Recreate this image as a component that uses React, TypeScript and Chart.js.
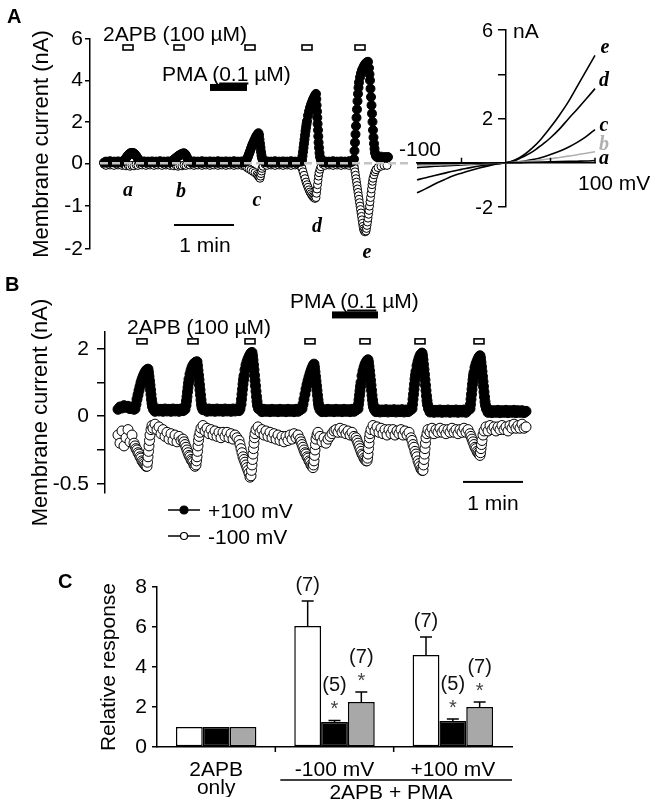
import React, { useEffect, useRef } from 'react';
import { Chart, registerables } from 'chart.js';

Chart.register(...registerables);

const PAGE_W = 654;
const PAGE_H = 808;
const SANS = '"Liberation Sans", Arial, Helvetica, sans-serif';
const SERIF = '"Liberation Serif", "Times New Roman", serif';

// ---------------- Panel A : time course (s, nA) ----------------
const aTickValues = [6, 4, 2, 0, -1, -2];
const aTickLabels = ['6', '4', '2', '0', '-1', '-2'];
const aNegStretch = 2.07; // negative half of the axis is drawn expanded
const aPlus100: [number, number][] = [
  [14, 0.03], [16, 0.08], [18, 0.04], [20, 0.1], [22, 0.05], [24, 0.08], [26, 0.03], [28, 0.09], [30, 0.05], [32, 0.08],
  [34, 0.12], [35, 0.18], [36, 0.25], [37, 0.32], [38, 0.38], [39, 0.43], [40, 0.47], [41, 0.5], [42, 0.5], [43, 0.5],
  [44, 0.47], [45, 0.43], [46, 0.37], [47, 0.3], [48, 0.22], [49, 0.15], [50, 0.1],
  [52, 0.05], [54, 0.09], [56, 0.04], [58, 0.08], [60, 0.03], [62, 0.09], [64, 0.05], [66, 0.08], [68, 0.04], [70, 0.1],
  [72, 0.05], [74, 0.08], [76, 0.03], [78, 0.09], [80, 0.05],
  [82, 0.1], [83, 0.14], [84, 0.18], [85, 0.22], [86, 0.26], [87, 0.3], [88, 0.34], [89, 0.37], [90, 0.4], [91, 0.43],
  [92, 0.45], [93, 0.47], [94, 0.48], [95, 0.45], [96, 0.38], [97, 0.28], [98, 0.2], [99, 0.13], [100, 0.08],
  [102, 0.03], [104, 0.09], [106, 0.05], [108, 0.08], [110, 0.03], [112, 0.1], [114, 0.04], [116, 0.08], [118, 0.03],
  [120, 0.09], [122, 0.05], [124, 0.08], [126, 0.03], [128, 0.1], [130, 0.04], [132, 0.08], [134, 0.03], [136, 0.09],
  [138, 0.05], [140, 0.08], [142, 0.03], [144, 0.1], [146, 0.04], [148, 0.08], [150, 0.03], [152, 0.09], [154, 0.05],
  [156, 0.08], [157, 0.2], [158, 0.32], [159, 0.45], [160, 0.58], [161, 0.72], [162, 0.85], [163, 0.97], [164, 1.08],
  [165, 1.18], [166, 1.28], [167, 1.36], [168, 1.42], [168.5, 1.45], [169, 1.35], [169.5, 1.15], [170, 0.95],
  [170.5, 0.75], [171, 0.55], [171.5, 0.38], [172, 0.25], [173, 0.12],
  [175, 0.05], [177, 0.09], [179, 0.04], [181, 0.08], [183, 0.03], [185, 0.1], [187, 0.05], [189, 0.08], [191, 0.03],
  [193, 0.09], [195, 0.04], [197, 0.08], [199, 0.03], [201, 0.1], [203, 0.05], [205, 0.08], [207, 0.03], [209, 0.09],
  [211, 0.08], [212, 0.15], [212.5, 0.35], [213, 0.55], [213.5, 0.75], [214, 0.95], [214.5, 1.15], [215, 1.35],
  [215.5, 1.55], [216, 1.72], [216.5, 1.88], [217, 2.03], [218, 2.3], [219, 2.5], [220, 2.68], [221, 2.83],
  [222, 2.96], [223, 3.08], [224, 3.18], [225, 3.28], [226, 3.35], [226.3, 3.1], [226.6, 2.8], [227, 2.5],
  [227.3, 2.2], [227.6, 1.9], [228, 1.6], [228.3, 1.3], [228.6, 1.0], [229, 0.75], [229.5, 0.5], [230, 0.3], [231, 0.15],
  [233, 0.05], [235, 0.09], [237, 0.04], [239, 0.08], [241, 0.03], [243, 0.1], [245, 0.05], [247, 0.08], [249, 0.03],
  [251, 0.09], [253, 0.04], [255, 0.08], [257, 0.03], [259, 0.1], [261, 0.05],
  [263, 0.1], [264, 0.2], [264.5, 0.6], [265, 1.0], [265.5, 1.4], [266, 1.8], [266.5, 2.2], [267, 2.6], [267.5, 3.0],
  [268, 3.35], [268.5, 3.65], [269, 3.9], [270, 4.15], [271, 4.35], [272, 4.5], [273, 4.6], [274, 4.7], [275, 4.78],
  [276, 4.84], [277, 4.88], [278, 4.9], [279, 4.6], [279.5, 4.3], [280, 4.0], [280.5, 3.6], [281, 3.2], [281.5, 2.8],
  [282, 2.4], [282.5, 2.0], [283, 1.6], [283.5, 1.25], [284, 0.95], [284.5, 0.7], [285, 0.5], [286, 0.35], [287, 0.3],
  [289, 0.28], [291, 0.32], [293, 0.27], [295, 0.3], [297, 0.26], [298, 0.3],
];
const aMinus100: [number, number][] = [
  [14, -0.02], [16, -0.05], [18, -0.01], [20, -0.04], [22, -0.02], [24, -0.05], [26, -0.01], [28, -0.04], [30, -0.02],
  [32, -0.05], [34, -0.03], [36, -0.06], [38, -0.04], [40, -0.07], [42, -0.05], [44, -0.06], [46, -0.03], [48, -0.05],
  [50, -0.02], [52, -0.04], [54, -0.01], [56, -0.05], [58, -0.02], [60, -0.04], [62, -0.01], [64, -0.05], [66, -0.02],
  [68, -0.04], [70, -0.01], [72, -0.05], [74, -0.02], [76, -0.04], [78, -0.02], [80, -0.05], [82, -0.03], [84, -0.06],
  [86, -0.04], [88, -0.07], [90, -0.05], [92, -0.06], [94, -0.04], [96, -0.05], [98, -0.02], [100, -0.04],
  [102, -0.01], [104, -0.05], [106, -0.02], [108, -0.04], [110, -0.01], [112, -0.05], [114, -0.02], [116, -0.04],
  [118, -0.01], [120, -0.05], [122, -0.02], [124, -0.04], [126, -0.01], [128, -0.05], [130, -0.02], [132, -0.04],
  [134, -0.01], [136, -0.05], [138, -0.02], [140, -0.04], [142, -0.01], [144, -0.05], [146, -0.02], [148, -0.04],
  [150, -0.01], [152, -0.05], [154, -0.03],
  [155, -0.06], [157, -0.1], [159, -0.13], [161, -0.16], [163, -0.19], [165, -0.22], [167, -0.26], [168, -0.29],
  [169, -0.32], [170, -0.35], [170.5, -0.3], [171, -0.24], [171.5, -0.18], [172, -0.12], [173, -0.07],
  [175, -0.02], [177, -0.05], [179, -0.01], [181, -0.04], [183, -0.02], [185, -0.05], [187, -0.01], [189, -0.04],
  [191, -0.02], [193, -0.05], [195, -0.01], [197, -0.04], [199, -0.02], [201, -0.05], [203, -0.01], [205, -0.04],
  [207, -0.02], [209, -0.05],
  [211, -0.06], [212, -0.12], [213, -0.2], [214, -0.28], [215, -0.36], [216, -0.44], [217, -0.5], [218, -0.56],
  [219, -0.62], [220, -0.67], [221, -0.71], [222, -0.75], [223, -0.78], [224, -0.8], [225, -0.82], [226, -0.8],
  [226.5, -0.7], [227, -0.6], [227.5, -0.5], [228, -0.4], [228.5, -0.3], [229, -0.22], [230, -0.14], [231, -0.08],
  [233, -0.02], [235, -0.05], [237, -0.01], [239, -0.04], [241, -0.02], [243, -0.05], [245, -0.01], [247, -0.04],
  [249, -0.02], [251, -0.05], [253, -0.01], [255, -0.04], [257, -0.02], [259, -0.05], [261, -0.01], [263, -0.04],
  [264, -0.06], [264.5, -0.12], [265, -0.2], [265.5, -0.28], [266, -0.36], [266.5, -0.44], [267, -0.52], [267.5, -0.6],
  [268, -0.68], [268.5, -0.76], [269, -0.84], [269.5, -0.92], [270, -1.0], [270.5, -1.08], [271, -1.16],
  [271.5, -1.24], [272, -1.32], [272.5, -1.4], [273, -1.47], [273.5, -1.53], [274, -1.57], [275, -1.6], [276, -1.58],
  [276.5, -1.52], [277, -1.45], [277.5, -1.37], [278, -1.28], [278.5, -1.19], [279, -1.1], [279.5, -1.0], [280, -0.9],
  [280.5, -0.8], [281, -0.7], [281.5, -0.6], [282, -0.5], [282.5, -0.42], [283, -0.35], [284, -0.27], [285, -0.2],
  [286, -0.15], [288, -0.1], [291, -0.07], [294, -0.05], [297, -0.05],
];
const a2apbStarts = [33, 84, 155, 212, 265]; // s
const a2apbDuration = 10; // s
const aPma = [120, 157]; // s
const aScaleBar = [84, 144]; // 1 min
const aZeroLine = [10, 320];

// ---------------- Panel A inset : I-V curves (mV, nA) ----------------
const ivVoltage = [-100, -90, -80, -70, -60, -50, -40, -30, -20, -10, 0, 10, 20, 30, 40, 50, 60, 70, 80, 90, 100];
const ivA = [-0.05, -0.045, -0.04, -0.035, -0.03, -0.025, -0.02, -0.015, -0.01, -0.005, 0, 0, 0.01, 0.02, 0.03, 0.04, 0.05, 0.06, 0.07, 0.08, 0.1];
const ivB = [-0.12, -0.11, -0.1, -0.09, -0.08, -0.065, -0.05, -0.04, -0.03, -0.015, 0, 0.02, 0.05, 0.09, 0.13, 0.18, 0.24, 0.3, 0.36, 0.43, 0.5];
const ivC = [-0.22, -0.19, -0.16, -0.14, -0.12, -0.1, -0.08, -0.06, -0.04, -0.02, 0, 0.03, 0.07, 0.14, 0.24, 0.37, 0.52, 0.7, 0.92, 1.18, 1.5];
const ivD = [-0.77, -0.68, -0.58, -0.48, -0.38, -0.3, -0.22, -0.15, -0.09, -0.04, 0, 0.1, 0.28, 0.5, 0.8, 1.13, 1.52, 1.98, 2.42, 2.88, 3.35];
const ivE = [-1.36, -1.17, -0.96, -0.78, -0.6, -0.47, -0.35, -0.24, -0.14, -0.05, 0, 0.12, 0.35, 0.68, 1.1, 1.6, 2.15, 2.75, 3.45, 4.15, 4.85];
const ivYLabelValues = [6, 2, -2];
const ivXTickValues = [-50, 50, 100];

// ---------------- Panel B : time course (s, nA) ----------------
const bTickValues = [2, 1, 0, -0.25, -0.5];
const bTickLabels = ['2', '', '0', '', '-0.5'];
const bNegStretch = 4.06;
const bPlus100: [number, number][] = [
  [13, 0.2], [15, 0.27], [17, 0.24], [19, 0.31], [21, 0.26], [23, 0.29], [25, 0.22], [27, 0.25], [29, 0.2],
  [30, 0.22], [31, 0.35], [32, 0.5], [33, 0.63], [34, 0.76], [35, 0.88], [36, 1.0], [37, 1.09], [38, 1.17], [39, 1.24],
  [40, 1.3], [41, 1.35], [42, 1.38], [43, 1.4], [43.5, 1.3], [44, 1.18], [44.5, 1.05], [45, 0.92], [45.5, 0.78],
  [46, 0.64], [46.5, 0.5], [47, 0.38], [47.5, 0.28], [48.5, 0.2],
  [50, 0.14], [52, 0.21], [54, 0.15], [56, 0.2], [58, 0.14], [60, 0.21], [62, 0.15], [64, 0.2], [66, 0.14], [68, 0.21],
  [70, 0.15], [72, 0.2], [74, 0.14], [76, 0.21], [78, 0.16],
  [80, 0.2], [81, 0.32], [81.5, 0.45], [82, 0.58], [82.5, 0.72], [83, 0.85], [83.5, 0.98], [84, 1.1], [85, 1.25],
  [86, 1.36], [87, 1.45], [88, 1.51], [89, 1.56], [90, 1.59], [91, 1.61], [92, 1.62], [92.5, 1.5], [93, 1.36],
  [93.5, 1.22], [94, 1.08], [94.5, 0.93], [95, 0.78], [95.5, 0.63], [96, 0.48], [96.5, 0.35], [97, 0.26], [98, 0.19],
  [100, 0.2], [102, 0.14], [104, 0.21], [106, 0.15], [108, 0.2], [110, 0.14], [112, 0.21], [114, 0.15], [116, 0.2],
  [118, 0.14], [120, 0.21], [122, 0.15], [124, 0.2], [126, 0.14], [128, 0.21], [130, 0.15], [132, 0.2], [134, 0.16],
  [135, 0.22], [136, 0.35], [136.5, 0.5], [137, 0.65], [137.5, 0.8], [138, 0.95], [138.5, 1.08], [139, 1.2],
  [140, 1.38], [141, 1.52], [142, 1.62], [143, 1.7], [144, 1.77], [145, 1.83], [146, 1.88], [147, 1.9], [147.5, 1.8],
  [148, 1.67], [148.5, 1.53], [149, 1.38], [149.5, 1.22], [150, 1.06], [150.5, 0.9], [151, 0.74], [151.5, 0.58],
  [152, 0.44], [152.5, 0.32], [153.5, 0.22],
  [155, 0.2], [157, 0.13], [159, 0.2], [161, 0.14], [163, 0.19], [165, 0.13], [167, 0.2], [169, 0.14], [171, 0.19],
  [173, 0.13], [175, 0.2], [177, 0.14], [179, 0.19], [181, 0.13], [183, 0.2], [185, 0.14], [187, 0.19], [189, 0.13],
  [191, 0.2], [193, 0.14], [195, 0.18],
  [197, 0.22], [198, 0.35], [199, 0.5], [200, 0.65], [201, 0.8], [202, 0.93], [203, 1.05], [204, 1.16], [205, 1.26],
  [206, 1.35], [207, 1.43], [208, 1.5], [209, 1.55], [209.5, 1.45], [210, 1.32], [210.5, 1.18], [211, 1.04],
  [211.5, 0.9], [212, 0.76], [212.5, 0.62], [213, 0.48], [213.5, 0.36], [214, 0.27], [215, 0.19],
  [217, 0.13], [219, 0.19], [221, 0.13], [223, 0.2], [225, 0.14], [227, 0.19], [229, 0.13], [231, 0.2], [233, 0.14],
  [235, 0.19], [237, 0.13], [239, 0.2], [241, 0.14], [243, 0.19], [245, 0.13], [247, 0.2], [249, 0.14], [251, 0.18],
  [253, 0.22], [253.5, 0.35], [254, 0.48], [254.5, 0.62], [255, 0.75], [255.5, 0.88], [256, 1.0], [257, 1.2],
  [258, 1.34], [259, 1.45], [260, 1.54], [261, 1.6], [262, 1.65], [263, 1.68], [263.5, 1.6], [264, 1.48], [264.5, 1.35],
  [265, 1.21], [265.5, 1.07], [266, 0.92], [266.5, 0.77], [267, 0.62], [267.5, 0.48], [268, 0.36], [268.5, 0.27],
  [269.5, 0.19],
  [271, 0.13], [273, 0.19], [275, 0.12], [277, 0.18], [279, 0.13], [281, 0.19], [283, 0.12], [285, 0.18], [287, 0.13],
  [289, 0.19], [291, 0.12], [293, 0.18], [295, 0.13], [297, 0.19], [299, 0.12], [301, 0.18], [303, 0.13], [305, 0.17],
  [307, 0.22], [307.5, 0.35], [308, 0.5], [308.5, 0.65], [309, 0.8], [309.5, 0.95], [310, 1.1], [310.5, 1.22],
  [311, 1.33], [312, 1.5], [313, 1.62], [314, 1.72], [315, 1.8], [316, 1.85], [317, 1.88], [317.5, 1.8], [318, 1.68],
  [318.5, 1.54], [319, 1.39], [319.5, 1.24], [320, 1.08], [320.5, 0.92], [321, 0.76], [321.5, 0.6], [322, 0.46],
  [322.5, 0.34], [323.5, 0.22],
  [325, 0.12], [327, 0.18], [329, 0.11], [331, 0.17], [333, 0.12], [335, 0.18], [337, 0.11], [339, 0.17], [341, 0.12],
  [343, 0.18], [345, 0.11], [347, 0.17], [349, 0.12], [351, 0.18], [353, 0.11], [355, 0.17], [357, 0.12], [359, 0.18],
  [361, 0.11], [363, 0.17],
  [365, 0.22], [365.5, 0.35], [366, 0.5], [366.5, 0.65], [367, 0.8], [367.5, 0.95], [368, 1.08], [368.5, 1.2],
  [369, 1.3], [370, 1.45], [371, 1.55], [372, 1.63], [373, 1.7], [374, 1.76], [375, 1.8], [375.5, 1.72], [376, 1.6],
  [376.5, 1.47], [377, 1.33], [377.5, 1.18], [378, 1.03], [378.5, 0.88], [379, 0.72], [379.5, 0.57], [380, 0.43],
  [380.5, 0.32], [381.5, 0.21],
  [383, 0.11], [385, 0.17], [387, 0.1], [389, 0.16], [391, 0.11], [393, 0.17], [395, 0.1], [397, 0.16], [399, 0.11],
  [401, 0.17], [403, 0.1], [405, 0.16], [407, 0.11], [409, 0.17], [411, 0.1], [413, 0.16], [415, 0.11], [417, 0.16],
  [419, 0.1], [421, 0.14],
];
const bMinus100: [number, number][] = [
  [13, -0.14], [15, -0.2], [17, -0.11], [19, -0.22], [21, -0.16], [23, -0.1], [25, -0.19], [27, -0.14],
  [29, -0.2], [30, -0.22], [31, -0.24], [32, -0.25], [33, -0.27], [34, -0.28], [35, -0.3], [36, -0.31], [37, -0.33],
  [38, -0.34], [39, -0.35], [40, -0.36], [41, -0.37], [42, -0.37], [42.5, -0.34], [43, -0.3], [43.5, -0.26],
  [44, -0.22], [44.5, -0.18], [45, -0.14], [46, -0.1], [47, -0.07], [48, -0.09],
  [50, -0.06], [52, -0.1], [54, -0.08], [56, -0.13], [58, -0.1], [60, -0.15], [62, -0.12], [64, -0.17], [66, -0.13],
  [68, -0.18], [70, -0.14], [72, -0.19], [74, -0.15], [76, -0.18],
  [78, -0.17], [79, -0.19], [80, -0.21], [81, -0.23], [82, -0.25], [83, -0.27], [84, -0.29], [85, -0.3], [86, -0.32],
  [87, -0.33], [88, -0.34], [89, -0.36], [90, -0.37], [91, -0.36], [91.5, -0.33], [92, -0.3], [92.5, -0.26],
  [93, -0.22], [93.5, -0.18], [94, -0.15], [95, -0.12], [96, -0.09],
  [98, -0.07], [100, -0.11], [102, -0.09], [104, -0.13], [106, -0.1], [108, -0.14], [110, -0.11], [112, -0.15],
  [114, -0.12], [116, -0.16], [118, -0.12], [120, -0.15], [122, -0.12], [124, -0.16], [126, -0.13], [128, -0.17],
  [130, -0.14], [132, -0.16],
  [134, -0.18], [135, -0.21], [136, -0.24], [137, -0.27], [138, -0.3], [139, -0.32], [140, -0.34], [141, -0.36],
  [142, -0.38], [143, -0.4], [144, -0.42], [145, -0.45], [146, -0.44], [146.5, -0.4], [147, -0.36], [147.5, -0.32],
  [148, -0.28], [148.5, -0.24], [149, -0.2], [149.5, -0.16], [150, -0.13], [151, -0.1],
  [153, -0.08], [155, -0.12], [157, -0.1], [159, -0.14], [161, -0.11], [163, -0.15], [165, -0.12], [167, -0.16],
  [169, -0.13], [171, -0.17], [173, -0.14], [175, -0.18], [177, -0.15], [179, -0.19], [181, -0.15], [183, -0.18],
  [185, -0.14], [187, -0.17], [189, -0.13], [191, -0.16], [193, -0.14],
  [195, -0.17], [196, -0.19], [197, -0.21], [198, -0.23], [199, -0.25], [200, -0.27], [201, -0.28], [202, -0.3],
  [203, -0.31], [204, -0.33], [205, -0.34], [206, -0.36], [207, -0.37], [208, -0.38], [208.5, -0.36], [209, -0.33],
  [209.5, -0.29], [210, -0.25], [210.5, -0.21], [211, -0.17], [212, -0.14], [213, -0.12],
  [215, -0.15], [217, -0.19], [219, -0.16], [221, -0.2], [223, -0.17], [225, -0.15], [227, -0.13], [229, -0.11],
  [231, -0.1], [233, -0.12], [235, -0.09], [237, -0.12], [239, -0.1], [241, -0.13], [243, -0.11], [245, -0.14],
  [247, -0.12], [249, -0.15],
  [251, -0.16], [252, -0.18], [253, -0.2], [254, -0.22], [255, -0.24], [256, -0.26], [257, -0.28], [258, -0.29],
  [259, -0.31], [260, -0.32], [261, -0.33], [262, -0.33], [262.5, -0.31], [263, -0.28], [263.5, -0.24], [264, -0.2],
  [264.5, -0.16], [265, -0.13], [266, -0.1],
  [268, -0.07], [270, -0.11], [272, -0.08], [274, -0.12], [276, -0.09], [278, -0.13], [280, -0.1], [282, -0.14],
  [284, -0.1], [286, -0.13], [288, -0.1], [290, -0.14], [292, -0.11], [294, -0.13], [296, -0.1], [298, -0.14],
  [300, -0.11], [302, -0.14], [304, -0.12],
  [306, -0.16], [307, -0.18], [308, -0.21], [309, -0.23], [310, -0.26], [311, -0.28], [312, -0.3], [313, -0.33],
  [314, -0.35], [315, -0.37], [316, -0.39], [317, -0.4], [318, -0.4], [318.5, -0.36], [319, -0.32], [319.5, -0.28],
  [320, -0.24], [320.5, -0.2], [321, -0.16], [322, -0.13], [323, -0.1],
  [325, -0.12], [327, -0.09], [329, -0.13], [331, -0.1], [333, -0.12], [335, -0.09], [337, -0.12], [339, -0.1],
  [341, -0.13], [343, -0.1], [345, -0.12], [347, -0.09], [349, -0.12], [351, -0.1], [353, -0.13], [355, -0.1],
  [357, -0.12], [359, -0.09], [361, -0.12], [363, -0.1],
  [365, -0.13], [366, -0.15], [367, -0.17], [368, -0.19], [369, -0.21], [370, -0.23], [371, -0.24], [372, -0.26],
  [373, -0.27], [374, -0.28], [375, -0.29], [375.5, -0.27], [376, -0.24], [376.5, -0.21], [377, -0.18], [378, -0.14],
  [379, -0.11],
  [381, -0.08], [383, -0.11], [385, -0.07], [387, -0.1], [389, -0.08], [391, -0.11], [393, -0.08], [395, -0.1],
  [397, -0.07], [399, -0.1], [401, -0.08], [403, -0.11], [405, -0.07], [407, -0.09], [409, -0.06], [411, -0.09],
  [413, -0.07], [415, -0.09], [417, -0.06], [419, -0.09], [421, -0.08],
];
const b2apbStarts = [32, 83, 140, 200, 255, 310, 369]; // s
const b2apbDuration = 10;
const bPma = [227, 273];
const bScaleBar = [358, 418];

// ---------------- Panel C : relative response ----------------
const cGroups: (string | string[])[] = [['2APB', 'only'], '-100 mV', '+100 mV'];
const cWhiteMean = [1, 6.05, 4.6];
const cWhiteSem = [0, 1.25, 0.9];
const cWhiteN = [0, 7, 7];
const cWhiteStar = [false, false, false];
const cBlackMean = [1, 1.25, 1.3];
const cBlackSem = [0, 0.08, 0.1];
const cBlackN = [0, 5, 5];
const cBlackStar = [false, true, true];
const cGrayMean = [1, 2.25, 2.0];
const cGraySem = [0, 0.5, 0.25];
const cGrayN = [0, 7, 7];
const cGrayStar = [false, true, true];

// ------------------------------------------------------------
const toA = (v: number) => (v < 0 ? v * aNegStretch : v);
const toB = (v: number) => (v < 0 ? v * bNegStretch : v);

const axisStyle = (size: number) => ({ size, family: SANS });

function traceDatasets(plus: [number, number][], minus: [number, number][], tr: (v: number) => number, rFilled: number, rOpen: number) {
  return [
    {
      label: '+100 mV',
      data: plus.map(([t, v]) => ({ x: t, y: tr(v) })),
      showLine: true,
      borderColor: '#000',
      borderWidth: 1,
      pointRadius: rFilled,
      pointBackgroundColor: '#000',
      pointBorderColor: '#000',
      pointBorderWidth: 1,
      order: 1,
      clip: false as const,
    },
    {
      label: '-100 mV',
      data: minus.map(([t, v]) => ({ x: t, y: tr(v) })),
      showLine: true,
      borderColor: '#000',
      borderWidth: 1,
      pointRadius: rOpen,
      pointBackgroundColor: '#fff',
      pointBorderColor: '#000',
      pointBorderWidth: 1,
      order: 2,
      clip: false as const,
    },
  ];
}

function traceYAxis(opts: {
  min: number; max: number; width: number; values: number[]; labels: string[]; tr: (v: number) => number;
  tickLength: number; padding: number; titlePad: number;
}) {
  return {
    type: 'linear' as const,
    min: opts.min,
    max: opts.max,
    afterFit: (s: any) => { s.width = opts.width; },
    afterBuildTicks: (s: any) => { s.ticks = opts.values.map((v) => ({ value: opts.tr(v) })); },
    ticks: {
      callback: (_v: any, i: number) => opts.labels[i],
      padding: opts.padding,
      color: '#000',
      font: axisStyle(21),
      autoSkip: false,
    },
    grid: { drawOnChartArea: false, drawTicks: true, tickLength: opts.tickLength, color: '#000', lineWidth: 1.5 },
    border: { display: true, color: '#000', width: 1.5 },
    title: {
      display: true,
      text: 'Membrane current (nA)',
      color: '#000',
      font: axisStyle(22),
      padding: { top: opts.titlePad, bottom: 0 },
    },
  };
}

const baseOptions = {
  responsive: false,
  animation: false as const,
  devicePixelRatio: 1,
  events: [] as any[],
  plugins: { legend: { display: false }, tooltip: { enabled: false } },
};

function drawMarkers(chart: any, starts: number[], dur: number, level: number) {
  const { ctx, scales: { x, y } } = chart;
  ctx.save();
  ctx.strokeStyle = '#000';
  ctx.fillStyle = '#fff';
  ctx.lineWidth = 1.6;
  const yc = y.getPixelForValue(level);
  starts.forEach((s) => {
    const x0 = x.getPixelForValue(s);
    const x1 = x.getPixelForValue(s + dur);
    ctx.fillRect(x0, yc - 2.5, x1 - x0, 5);
    ctx.strokeRect(x0, yc - 2.5, x1 - x0, 5);
  });
  ctx.restore();
}
function drawBar(chart: any, span: number[], level: number, thick: number) {
  const { ctx, scales: { x, y } } = chart;
  const x0 = x.getPixelForValue(span[0]);
  const x1 = x.getPixelForValue(span[1]);
  const yc = y.getPixelForValue(level);
  ctx.save();
  ctx.fillStyle = '#000';
  ctx.fillRect(x0, yc - thick / 2, x1 - x0, thick);
  ctx.restore();
}

const aPlugin = {
  id: 'aAnnotations',
  afterDatasetsDraw(chart: any) {
    const { ctx, scales: { x, y } } = chart;
    ctx.save();
    ctx.strokeStyle = '#c4c4c4';
    ctx.lineWidth = 2.5;
    ctx.setLineDash([8, 4]);
    ctx.beginPath();
    ctx.moveTo(x.getPixelForValue(aZeroLine[0]), y.getPixelForValue(0));
    ctx.lineTo(x.getPixelForValue(aZeroLine[1]), y.getPixelForValue(0));
    ctx.stroke();
    ctx.restore();
    drawMarkers(chart, a2apbStarts, a2apbDuration, 5.59);
    drawBar(chart, aPma, 3.66, 7);
    drawBar(chart, aScaleBar, toA(-1.44), 2);
  },
};

const bPlugin = {
  id: 'bAnnotations',
  afterDatasetsDraw(chart: any) {
    const { ctx } = chart;
    drawMarkers(chart, b2apbStarts, b2apbDuration, 2.23);
    drawBar(chart, bPma, 3.02, 7);
    drawBar(chart, bScaleBar, toB(-0.485), 2);
    // legend symbols
    ctx.save();
    ctx.strokeStyle = '#000';
    [510, 536].forEach((yy, i) => {
      ctx.lineWidth = 1.5;
      ctx.beginPath();
      ctx.moveTo(168, yy);
      ctx.lineTo(200, yy);
      ctx.stroke();
      ctx.beginPath();
      ctx.arc(184, yy, i === 0 ? 4 : 3.5, 0, Math.PI * 2);
      ctx.fillStyle = i === 0 ? '#000' : '#fff';
      ctx.fill();
      ctx.lineWidth = 1.2;
      ctx.stroke();
    });
    ctx.restore();
  },
};

const ivPlugin = {
  id: 'ivAnnotations',
  afterDraw(chart: any) {
    const { ctx, scales: { x, y } } = chart;
    const x0 = x.getPixelForValue(0);
    const y0 = y.getPixelForValue(0);
    ctx.save();
    ctx.fillStyle = '#000';
    ctx.font = `20px ${SANS}`;
    ctx.textAlign = 'right';
    ctx.textBaseline = 'middle';
    ivYLabelValues.forEach((v) => ctx.fillText(String(v), x0 - 13, y.getPixelForValue(v) + 1));
    ctx.strokeStyle = '#000';
    ctx.lineWidth = 1.5;
    ivXTickValues.forEach((v) => {
      const px = x.getPixelForValue(v);
      ctx.beginPath();
      ctx.moveTo(px, y0);
      ctx.lineTo(px, y0 - 5);
      ctx.stroke();
    });
    ctx.restore();
  },
};

const cSeries = [
  { mean: cWhiteMean, sem: cWhiteSem, n: cWhiteN, star: cWhiteStar, fill: '#ffffff' },
  { mean: cBlackMean, sem: cBlackSem, n: cBlackN, star: cBlackStar, fill: '#000000' },
  { mean: cGrayMean, sem: cGraySem, n: cGrayN, star: cGrayStar, fill: '#a8a8a8' },
];

const cPlugin = {
  id: 'cAnnotations',
  afterDatasetsDraw(chart: any) {
    const { ctx, scales: { x, y } } = chart;
    ctx.save();
    ctx.strokeStyle = '#000';
    ctx.lineWidth = 1.5;
    cSeries.forEach((s, di) => {
      const meta = chart.getDatasetMeta(di);
      meta.data.forEach((bar: any, j: number) => {
        if (!s.sem[j]) return;
        const top = y.getPixelForValue(s.mean[j]);
        const cap = y.getPixelForValue(s.mean[j] + s.sem[j]);
        ctx.beginPath();
        ctx.moveTo(bar.x, top);
        ctx.lineTo(bar.x, cap);
        ctx.moveTo(bar.x - 6, cap);
        ctx.lineTo(bar.x + 6, cap);
        ctx.stroke();
        ctx.textAlign = 'center';
        ctx.textBaseline = 'middle';
        ctx.font = `20px ${SANS}`;
        if (s.star[j]) {
          ctx.fillStyle = '#444';
          ctx.fillText('*', bar.x, cap - 15 + 4);
          ctx.fillStyle = '#111';
          ctx.fillText(`(${s.n[j]})`, bar.x, cap - 35);
        } else if (s.n[j]) {
          ctx.fillStyle = '#111';
          ctx.fillText(`(${s.n[j]})`, bar.x, cap - 16);
        }
      });
    });
    // x-axis group boundary ticks
    const axisY = y.getPixelForValue(0);
    for (let i = 1; i < cGroups.length; i++) {
      const xb = (x.getPixelForValue(i - 1) + x.getPixelForValue(i)) / 2;
      ctx.beginPath();
      ctx.moveTo(xb, axisY);
      ctx.lineTo(xb, axisY + 5);
      ctx.stroke();
    }
    // bracket under the 2APB + PMA groups
    const xStart = (x.getPixelForValue(0) + x.getPixelForValue(1)) / 2 + 5;
    ctx.beginPath();
    ctx.moveTo(xStart, 780);
    ctx.lineTo(chart.chartArea.right, 780);
    ctx.stroke();
    ctx.restore();
  },
};

function makeA() {
  return {
    type: 'scatter' as const,
    data: { datasets: traceDatasets(aPlus100, aMinus100, toA, 4.5, 4) },
    options: {
      ...baseOptions,
      layout: { autoPadding: false, padding: { left: 21, top: 39, right: PAGE_W - 410, bottom: PAGE_H - 249 } },
      scales: {
        x: { type: 'linear' as const, display: false, min: 0, max: 320 },
        y: traceYAxis({ min: toA(-2), max: 6, width: 69, values: aTickValues, labels: aTickLabels, tr: toA, tickLength: 5, padding: 2, titlePad: 7.8 }),
      },
    },
    plugins: [aPlugin],
  };
}

function makeB() {
  return {
    type: 'scatter' as const,
    data: { datasets: traceDatasets(bPlus100, bMinus100, toB, 5, 5) },
    options: {
      ...baseOptions,
      layout: { autoPadding: false, padding: { left: 20, top: 332, right: PAGE_W - 540, bottom: PAGE_H - 493 } },
      scales: {
        x: { type: 'linear' as const, display: false, min: 0, max: 435 },
        y: traceYAxis({ min: -2.3, max: 2.51, width: 85, values: bTickValues, labels: bTickLabels, tr: toB, tickLength: 8, padding: 8, titlePad: 7.8 }),
      },
    },
    plugins: [bPlugin],
  };
}

function makeIV() {
  const curves = [
    { label: 'a', values: ivA, color: '#000' },
    { label: 'b', values: ivB, color: '#b0b0b0' },
    { label: 'c', values: ivC, color: '#000' },
    { label: 'd', values: ivD, color: '#000' },
    { label: 'e', values: ivE, color: '#000' },
  ];
  return {
    type: 'line' as const,
    data: {
      datasets: curves.map((c) => ({
        label: c.label,
        data: ivVoltage.map((v, i) => ({ x: v, y: c.values[i] })),
        borderColor: c.color,
        borderWidth: 1.6,
        pointRadius: 0,
        cubicInterpolationMode: 'monotone' as const,
        clip: false as const,
      })),
    },
    options: {
      ...baseOptions,
      layout: { autoPadding: false, padding: { left: 417, top: 30, right: PAGE_W - 595, bottom: PAGE_H - 207 } },
      scales: {
        x: {
          type: 'linear' as const, min: -100, max: 100, position: { y: 0 },
          ticks: { display: false }, grid: { display: false },
          border: { display: true, color: '#000', width: 1.5 },
        },
        y: {
          type: 'linear' as const, min: -2, max: 6, position: { x: 0 },
          ticks: { display: false, stepSize: 2 },
          grid: { drawOnChartArea: false, drawTicks: true, tickLength: 7, color: '#000', lineWidth: 1.5 },
          border: { display: true, color: '#000', width: 1.5 },
        },
      },
    },
    plugins: [ivPlugin],
  };
}

function makeC() {
  return {
    type: 'bar' as const,
    data: {
      labels: cGroups,
      datasets: cSeries.map((s) => ({
        data: s.mean,
        backgroundColor: s.fill,
        borderColor: '#000',
        borderWidth: 1.5,
        borderSkipped: false as const,
        categoryPercentage: 0.68,
        barPercentage: 1,
      })),
    },
    options: {
      ...baseOptions,
      layout: { autoPadding: false, padding: { left: 90, top: 587, right: PAGE_W - 512, bottom: 11 } },
      scales: {
        x: {
          afterFit: (s: any) => { s.height = 50; },
          ticks: { color: '#000', font: { size: 21, family: SANS, lineHeight: 0.85 }, padding: 14, maxRotation: 0, autoSkip: false },
          grid: { display: false, drawTicks: false },
          border: { display: true, color: '#000', width: 1.5 },
        },
        y: {
          min: 0, max: 8,
          afterFit: (s: any) => { s.width = 67; },
          ticks: { stepSize: 2, color: '#000', font: axisStyle(21), padding: 5 },
          grid: { drawOnChartArea: false, drawTicks: true, tickLength: 5, color: '#000', lineWidth: 1.5 },
          border: { display: true, color: '#000', width: 1.5 },
          title: { display: true, text: 'Relative response', color: '#000', font: axisStyle(21), padding: { top: 6.4, bottom: 0 } },
        },
      },
    },
    plugins: [cPlugin],
  };
}

function ChartCanvas({ make }: { make: () => any }) {
  const ref = useRef<HTMLCanvasElement>(null);
  useEffect(() => {
    const chart = new Chart(ref.current as HTMLCanvasElement, make());
    return () => chart.destroy();
  }, [make]);
  return (
    <canvas
      ref={ref}
      width={PAGE_W}
      height={PAGE_H}
      style={{ position: 'absolute', left: 0, top: 0, width: PAGE_W, height: PAGE_H }}
    />
  );
}

type LabelProps = {
  x: number; y: number; children: React.ReactNode; size?: number;
  align?: 'left' | 'center' | 'right'; bold?: boolean; italic?: boolean; serif?: boolean; color?: string;
};
function Label({ x, y, children, size = 21, align = 'left', bold, italic, serif, color = '#000' }: LabelProps) {
  const tx = align === 'center' ? '-50%' : align === 'right' ? '-100%' : '0';
  return (
    <div
      style={{
        position: 'absolute', left: x, top: y, transform: `translate(${tx}, -50%)`,
        fontSize: size, lineHeight: 1, whiteSpace: 'nowrap', color,
        fontFamily: serif ? SERIF : SANS, fontWeight: bold ? 'bold' : 'normal', fontStyle: italic ? 'italic' : 'normal',
      }}
    >
      {children}
    </div>
  );
}

const Trace = ({ x, y, t, color }: { x: number; y: number; t: string; color?: string }) => (
  <Label x={x} y={y} size={20} align="center" bold italic serif color={color}>{t}</Label>
);

export default function App() {
  return (
    <div style={{ position: 'absolute', left: 0, top: 0, width: PAGE_W, height: PAGE_H, background: '#fff', overflow: 'hidden' }}>
      <ChartCanvas make={makeA} />
      <ChartCanvas make={makeIV} />
      <ChartCanvas make={makeB} />
      <ChartCanvas make={makeC} />

      {/* Panel A */}
      <Label x={7} y={15.5} size={20} bold>A</Label>
      <Label x={103} y={33}>2APB (100 µM)</Label>
      <Label x={162} y={73}>PMA (<span style={{ textDecoration: 'underline' }}>0.1</span> µM)</Label>
      <Label x={205} y={244} align="center">1 min</Label>
      <Trace x={128} y={189} t="a" />
      <Trace x={181} y={190} t="b" />
      <Trace x={257} y={199} t="c" />
      <Trace x={317} y={225} t="d" />
      <Trace x={367} y={251} t="e" />

      {/* Inset I-V */}
      <Label x={513} y={30}>nA</Label>
      <Label x={399} y={148}>-100</Label>
      <Label x={578} y={182}>100 mV</Label>
      <Trace x={605} y={46} t="e" />
      <Trace x={604} y={79} t="d" />
      <Trace x={604} y={124} t="c" />
      <Trace x={604} y={143} t="b" color="#b0b0b0" />
      <Trace x={604} y={157} t="a" />

      {/* Panel B */}
      <Label x={5} y={284} size={20} bold>B</Label>
      <Label x={290} y={300}>PMA (<span style={{ textDecoration: 'underline' }}>0.1</span> µM)</Label>
      <Label x={127} y={326}>2APB (100 µM)</Label>
      <Label x={493} y={502} align="center">1 min</Label>
      <Label x={208} y={510}>+100 mV</Label>
      <Label x={208} y={536}>-100 mV</Label>

      {/* Panel C */}
      <Label x={58} y={581} size={20} bold>C</Label>
      <Label x={391} y={791} align="center">2APB + PMA</Label>
    </div>
  );
}
